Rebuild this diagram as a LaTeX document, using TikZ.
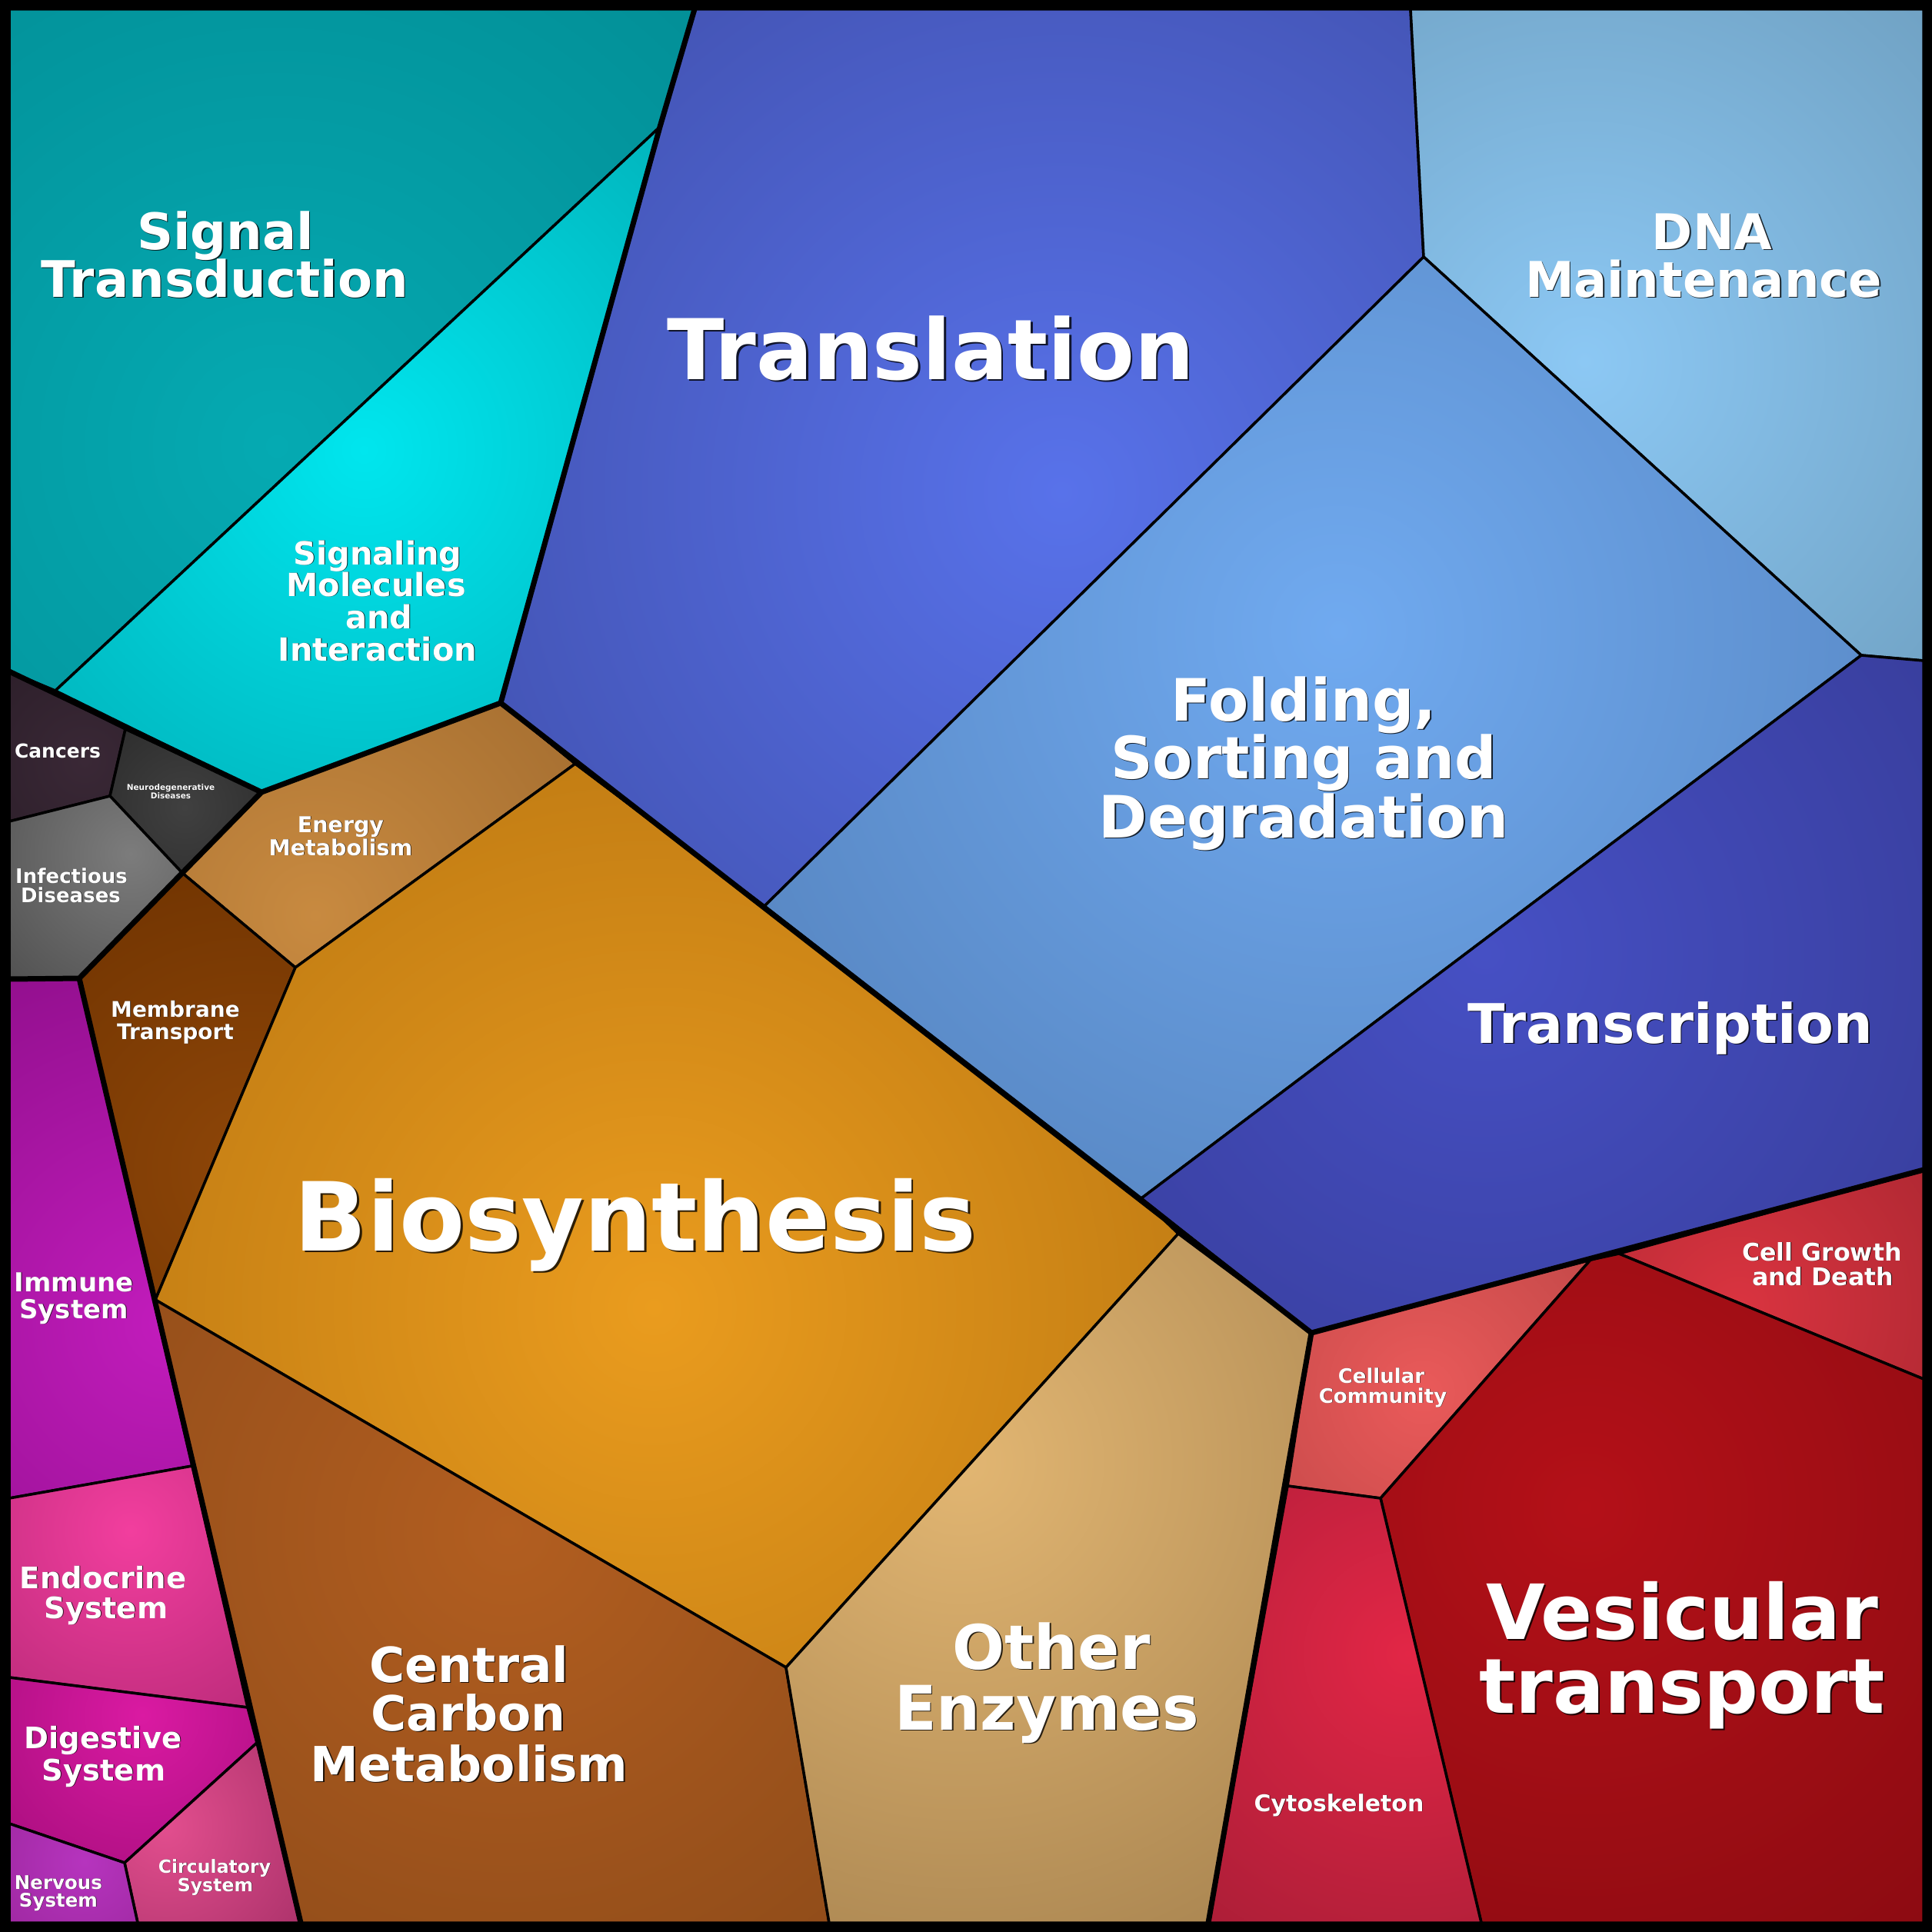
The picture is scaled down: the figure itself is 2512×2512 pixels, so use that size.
\documentclass[tikz,border=0pt]{standalone}
\usepackage{fontspec}
\setmainfont{DejaVu Sans}
\begin{document}
\begin{tikzpicture}[x=1bp,y=-1bp,
  cell/.style={draw=black, line width=3.5bp, line join=round},
  grp/.style={draw=black, line width=7bp, line join=round, line cap=round},
  lbl/.style={text=white, inner sep=0pt, anchor=base},
  shd/.style={text=black, text opacity=0.8, inner sep=0pt, anchor=base}]
\newcommand\cellfill[6]{%
  \begin{scope}\definecolor{cin}{HTML}{#5}\definecolor{cout}{HTML}{#6}%
  \clip #1; \shade[inner color=cin, outer color=cout] (#2,#3) circle (#4bp);\end{scope}
  \draw[cell] #1;}
\newcommand\lbl[5]{%
  \node[shd, font=\fontsize{#4bp}{#4bp}\selectfont\bfseries, xshift={#4*0.022}, yshift={-#4*0.022}] (#1-s) at (#2,#3) {#5};
  \node[lbl, font=\fontsize{#4bp}{#4bp}\selectfont\bfseries] (#1) at (#2,#3) {#5};}
\useasboundingbox (0,0) rectangle (2512,2512);
\fill[black] (0,0) rectangle (2512,2512);
% vertices
\coordinate (tl) at (12,12);
\coordinate (tr) at (2501,12);
\coordinate (br) at (2501,2500);
\coordinate (bl) at (12,2500);
\coordinate (a) at (903,12);
\coordinate (b) at (858,165);
\coordinate (c) at (651,914);
\coordinate (d) at (340,1030);
\coordinate (e) at (72,898);
\coordinate (f) at (12,873);
\coordinate (g) at (163,948);
\coordinate (h) at (143,1035);
\coordinate (i) at (12,1068);
\coordinate (j) at (237,1135);
\coordinate (k) at (103,1272);
\coordinate (l) at (12,1273);
\coordinate (m) at (748,993);
\coordinate (n) at (384,1258);
\coordinate (o) at (202,1690);
\coordinate (p) at (994,1178);
\coordinate (q) at (1484,1558);
\coordinate (r) at (1532,1604);
\coordinate (s) at (1022,2168);
\coordinate (t) at (1078,2500);
\coordinate (u) at (391,2500);
\coordinate (v) at (1705,1733);
\coordinate (w) at (1571,2500);
\coordinate (x1) at (1834,12);
\coordinate (x2) at (1851,334);
\coordinate (x3) at (2420,852);
\coordinate (x4) at (2501,859);
\coordinate (x5) at (2501,1521);
\coordinate (x6) at (2105,1630);
\coordinate (x7) at (2068,1638);
\coordinate (x8) at (1795,1948);
\coordinate (x9) at (1674,1932);
\coordinate (x10) at (2501,1793);
\coordinate (x11) at (1926,2500);
\coordinate (y1) at (250,1906);
\coordinate (y2) at (12,1948);
\coordinate (y3) at (322,2220);
\coordinate (y4) at (12,2181);
\coordinate (y5) at (334,2266);
\coordinate (y6) at (162,2422);
\coordinate (y7) at (12,2371);
\coordinate (y8) at (179,2500);
% cells
\cellfill{(tl)--(a)--(b)--(e)--(f)--cycle}{360}{580}{1000}{05AAB2}{028890}
\cellfill{(b)--(c)--(d)--(e)--cycle}{473}{585}{740}{00E6EE}{02A6AE}
\cellfill{(f)--(g)--(h)--(i)--cycle}{110}{990}{220}{3A2836}{281C26}
\cellfill{(g)--(d)--(j)--(h)--cycle}{240}{1050}{190}{404040}{262626}
\cellfill{(i)--(h)--(j)--(k)--(l)--cycle}{170}{1110}{300}{7C7C7C}{444444}
\cellfill{(d)--(c)--(m)--(n)--(j)--cycle}{410}{1190}{500}{C88A40}{A06A2E}
\cellfill{(j)--(n)--(o)--(k)--cycle}{330}{1520}{530}{8E4608}{6A3000}
\cellfill{(n)--(m)--(p)--(q)--(r)--(s)--(o)--cycle}{850}{1700}{1000}{EA9C1E}{B47210}
\cellfill{(o)--(s)--(t)--(u)--cycle}{660}{1990}{850}{B25E20}{884818}
\cellfill{(r)--(v)--(w)--(t)--(s)--cycle}{1250}{1900}{740}{E2B672}{A88450}
\cellfill{(a)--(x1)--(x2)--(p)--(m)--(c)--(b)--cycle}{1380}{640}{1050}{5872EA}{3E4CA6}
\cellfill{(x1)--(tr)--(x4)--(x3)--(x2)--cycle}{2060}{470}{880}{8CC8F4}{6694B2}
\cellfill{(x2)--(x3)--(q)--(p)--cycle}{1740}{820}{1050}{70AAF0}{5380BA}
\cellfill{(x3)--(x4)--(x5)--(x6)--(x7)--(v)--(q)--cycle}{1930}{1240}{950}{4650C4}{343890}
\cellfill{(v)--(x7)--(x8)--(x9)--cycle}{1850}{1810}{330}{EA5A5A}{BE4646}
\cellfill{(x6)--(x5)--(x10)--cycle}{2260}{1700}{370}{DA3440}{A82630}
\cellfill{(x7)--(x6)--(x10)--(br)--(x11)--(x8)--cycle}{2060}{1960}{850}{B41018}{840A10}
\cellfill{(x9)--(x8)--(x11)--(w)--cycle}{1830}{2150}{540}{E22646}{A01C34}
\cellfill{(l)--(k)--(y1)--(y2)--cycle}{220}{1720}{630}{C21CBC}{860C82}
\cellfill{(y2)--(y1)--(y3)--(y4)--cycle}{170}{1990}{310}{F23E9E}{B82A78}
\cellfill{(y4)--(y3)--(y5)--(y6)--(y7)--cycle}{185}{2230}{300}{DA1AA2}{A00C78}
\cellfill{(y5)--(u)--(y8)--(y6)--cycle}{215}{2375}{240}{E24E8E}{A83068}
\cellfill{(y7)--(y6)--(y8)--(bl)--cycle}{110}{2420}{190}{B634BE}{962496}
% group boundaries
\draw[grp] (f)--(d)--(c)--(b)--(a);
\draw[grp] (c)--(v)--(x5);
\draw[grp] (v)--(w);
\draw[grp] (d)--(j)--(k)--(l);
\draw[grp] (k)--(u);
% frame
\draw[line width=12bp] (6,6) rectangle (2506,2506);
% labels
\lbl{st1}{293}{324}{65.5}{Signal}
\lbl{st2}{292}{386}{65.5}{Transduction}
\lbl{sm1}{491}{734}{41.5}{Signaling}
\lbl{sm2}{489}{775}{41.5}{Molecules}
\lbl{sm3}{493}{817}{41.5}{and}
\lbl{sm4}{491}{859}{41.5}{Interaction}
\lbl{tr1}{1210}{493}{109}{Translation}
\lbl{dn1}{2226}{324}{64}{DNA}
\lbl{dn2}{2215}{386}{64}{Maintenance}
\lbl{fo1}{1695}{937}{76}{Folding,}
\lbl{fo2}{1695}{1012}{76}{Sorting and}
\lbl{fo3}{1695}{1089}{76}{Degradation}
\lbl{tc1}{2172}{1356}{71}{Transcription}
\lbl{bs1}{826}{1626}{124}{Biosynthesis}
\lbl{en1}{443}{1082}{28.5}{Energy}
\lbl{en2}{443}{1112}{28.5}{Metabolism}
\lbl{mt1}{228}{1322}{28}{Membrane}
\lbl{mt2}{228}{1351}{28}{Transport}
\lbl{ca1}{75}{985}{25}{Cancers}
\lbl{nd1}{222}{1027}{10.5}{Neurodegenerative}
\lbl{nd2}{222}{1038}{10.5}{Diseases}
\lbl{in1}{93}{1148}{26}{Infectious}
\lbl{in2}{92}{1173}{26}{Diseases}
\lbl{im1}{96}{1679}{34}{Immune}
\lbl{im2}{96}{1714}{34}{System}
\lbl{ec1}{134}{2065}{38.5}{Endocrine}
\lbl{ec2}{138}{2104}{38.5}{System}
\lbl{dg1}{134}{2273}{38.5}{Digestive}
\lbl{dg2}{135}{2315}{38.5}{System}
\lbl{nv1}{76}{2456}{24.5}{Nervous}
\lbl{nv2}{76}{2479}{24.5}{System}
\lbl{ci1}{279}{2435}{23.6}{Circulatory}
\lbl{ci2}{280}{2459}{23.6}{System}
\lbl{cc1}{610}{2187}{63}{Central}
\lbl{cc2}{609}{2250}{63}{Carbon}
\lbl{cc3}{610}{2316}{63}{Metabolism}
\lbl{oe1}{1367}{2170}{80}{Other}
\lbl{oe2}{1361}{2249}{80}{Enzymes}
\lbl{cm1}{1796}{1798}{26}{Cellular}
\lbl{cm2}{1798}{1824}{26}{Community}
\lbl{cg1}{2369}{1639}{31.6}{Cell Growth}
\lbl{cg2}{2370}{1671}{31.6}{and Death}
\lbl{cy1}{1741}{2355}{30}{Cytoskeleton}
\lbl{vt1}{2187}{2131}{99}{Vesicular}
\lbl{vt2}{2187}{2227}{99}{transport}
\end{tikzpicture}
\end{document}
